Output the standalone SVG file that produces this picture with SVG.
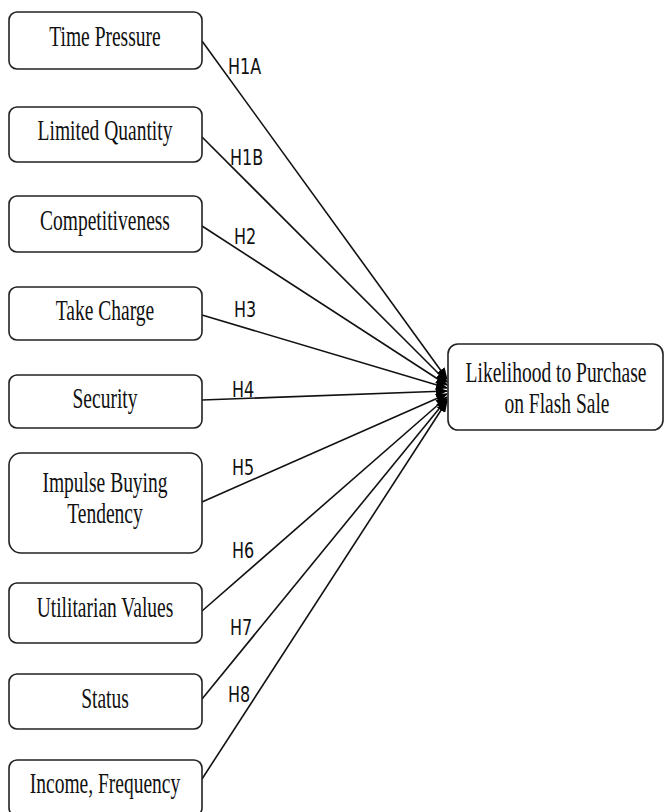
<svg xmlns="http://www.w3.org/2000/svg" width="665" height="812" viewBox="0 0 665 812">
<style>
.box{fill:#fff;stroke:#222;stroke-width:1.6}
.nt{font-family:"Liberation Serif","Times New Roman",serif;font-size:19.5px;fill:#111;text-anchor:middle}
.lb{font-family:"DejaVu Sans",Verdana,sans-serif;font-size:16px;fill:#111}
.ln{stroke:#111;stroke-width:1.6;fill:none;marker-end:url(#ah)}
</style>
<defs>
<marker id="ah" markerWidth="12" markerHeight="10" refX="11" refY="5" orient="auto" markerUnits="userSpaceOnUse">
<path d="M0,0 L12,5 L0,10 Z" fill="#000"/>
</marker>
</defs>
<rect width="665" height="812" fill="#fff"/>
<g id="connectors">
<line class="ln" x1="202" y1="41" x2="447" y2="379"/>
<line class="ln" x1="202" y1="137" x2="447" y2="382"/>
<line class="ln" x1="202" y1="226" x2="447" y2="385"/>
<line class="ln" x1="202" y1="315" x2="447" y2="388"/>
<line class="ln" x1="202" y1="400" x2="447" y2="391"/>
<line class="ln" x1="202" y1="502" x2="447" y2="394"/>
<line class="ln" x1="202" y1="611" x2="447" y2="397"/>
<line class="ln" x1="202" y1="699" x2="447" y2="399"/>
<line class="ln" x1="202" y1="779" x2="447" y2="401"/>
<text class="lb" transform="translate(228,74) scale(1,1.28)">H1A</text>
<text class="lb" transform="translate(230,165) scale(1,1.28)">H1B</text>
<text class="lb" transform="translate(234,244) scale(1,1.28)">H2</text>
<text class="lb" transform="translate(234,317) scale(1,1.28)">H3</text>
<text class="lb" transform="translate(232,397) scale(1,1.28)">H4</text>
<text class="lb" transform="translate(232,475) scale(1,1.28)">H5</text>
<text class="lb" transform="translate(232,558) scale(1,1.28)">H6</text>
<text class="lb" transform="translate(230,635) scale(1,1.28)">H7</text>
<text class="lb" transform="translate(228,702) scale(1,1.28)">H8</text>
</g>
<g id="time-pressure"><rect class="box" x="9" y="12" width="193" height="57" rx="8"/><text class="nt" transform="translate(105,46) scale(1,1.47)">Time Pressure</text></g>
<g id="limited-quantity"><rect class="box" x="9" y="107" width="193" height="55" rx="8"/><text class="nt" transform="translate(105,140) scale(1,1.47)">Limited Quantity</text></g>
<g id="competitiveness"><rect class="box" x="9" y="196" width="193" height="56" rx="8"/><text class="nt" transform="translate(105,230) scale(1,1.47)">Competitiveness</text></g>
<g id="take-charge"><rect class="box" x="9" y="287" width="193" height="53" rx="8"/><text class="nt" transform="translate(105,320) scale(1,1.47)">Take Charge</text></g>
<g id="security"><rect class="box" x="9" y="375" width="193" height="53" rx="8"/><text class="nt" transform="translate(105,408) scale(1,1.47)">Security</text></g>
<g id="impulse-buying"><rect class="box" x="9" y="453" width="193" height="100" rx="12"/><text class="nt" transform="translate(105,492) scale(1,1.47)">Impulse Buying</text><text class="nt" transform="translate(105,523) scale(1,1.47)">Tendency</text></g>
<g id="utilitarian-values"><rect class="box" x="9" y="583" width="193" height="60" rx="8"/><text class="nt" transform="translate(105,617) scale(1,1.47)">Utilitarian Values</text></g>
<g id="status"><rect class="box" x="9" y="674" width="193" height="55" rx="8"/><text class="nt" transform="translate(105,708) scale(1,1.47)">Status</text></g>
<g id="income-frequency"><rect class="box" x="9" y="760" width="193" height="56" rx="8"/><text class="nt" transform="translate(105,793) scale(1,1.47)">Income, Frequency</text></g>
<g id="likelihood"><rect class="box" x="448" y="344" width="215" height="86" rx="10"/><text class="nt" transform="translate(556,382) scale(1,1.47)">Likelihood to Purchase</text><text class="nt" transform="translate(557,413) scale(1,1.47)">on Flash Sale</text></g>
</svg>
